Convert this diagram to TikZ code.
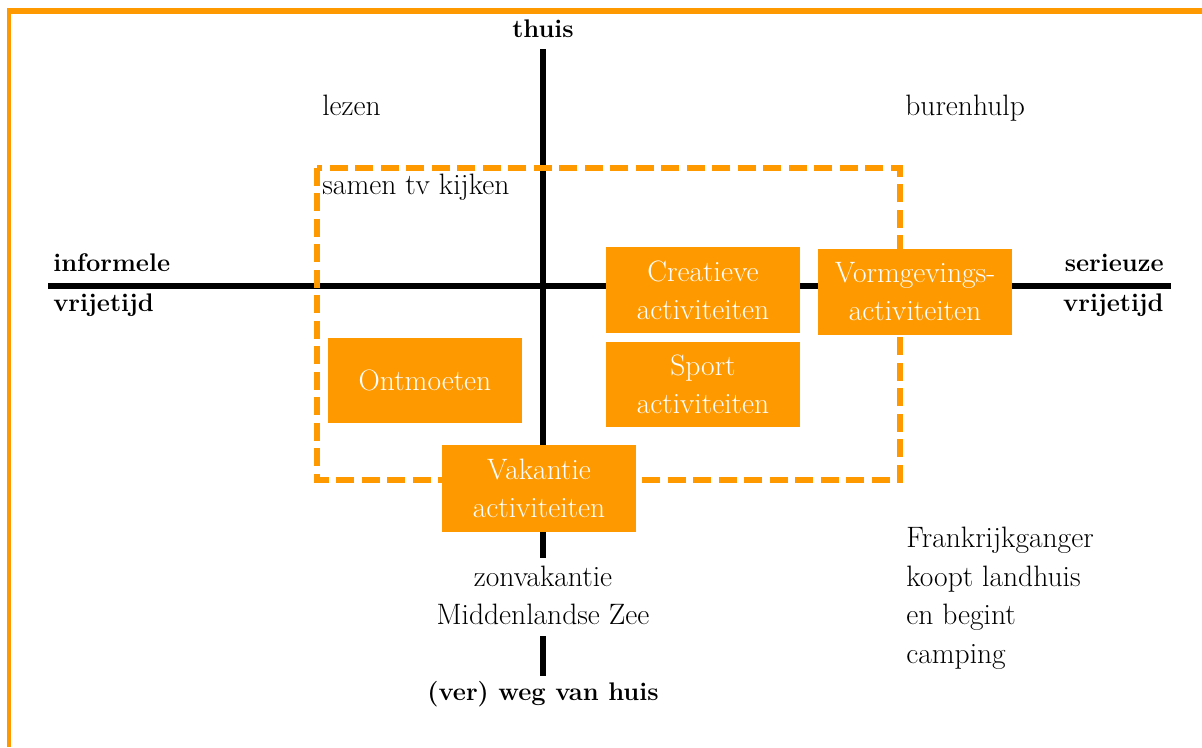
\documentclass[tikz,border=0pt]{standalone}
\usepackage{fontspec}
\definecolor{orng}{RGB}{255,153,0}
\tikzset{
  lbl/.style={font=\fontsize{16.8}{21.6}\selectfont, text=black, inner sep=0pt},
  axlbl/.style={font=\fontsize{14.5}{21.6}\selectfont\bfseries, text=black, inner sep=0pt},
  actbox/.style={fill=orng, text=white, font=\fontsize{16.8}{21.6}\selectfont, align=center, inner sep=0pt, minimum width=3.88cm},
  axisline/.style={line width=0.11cm, black},
  zone/.style={orng, line width=0.12cm, dash pattern=on 0.36cm off 0.15cm},
}
\begin{document}
\begin{tikzpicture}[x=0.02cm,y=-0.02cm]
\useasboundingbox (0,0) rectangle (1202,747);
% frame
\draw[orng, line width=0.12cm] (7,11) -- (1202,11);
\draw[orng, line width=0.08cm] (9,8) -- (9,747);
% axis end points
\coordinate (hl) at (48,286);
\coordinate (hr) at (1171,286);
\coordinate (vt) at (543,49);
\coordinate (vg1) at (543,558);
\coordinate (vg2) at (543,636);
\coordinate (vb) at (543,676);
\draw[axisline] (hl) -- (hr);
\draw[axisline] (vt) -- (vg1);
\draw[axisline] (vg2) -- (vb);
% dashed zone
\coordinate (z1) at (317,168);
\coordinate (z2) at (900,480);
\draw[zone] (z1) rectangle (z2);
% activity boxes
\node[actbox, minimum height=1.72cm] (creat) at (703,290) {Creatieve\\activiteiten};
\node[actbox, minimum height=1.70cm] (sport) at (703,384.5) {Sport\\activiteiten};
\node[actbox, minimum height=1.72cm] (vorm) at (915,292) {Vormgevings-\\activiteiten};
\node[actbox, minimum height=1.70cm] (ontm) at (425,380.5) {Ontmoeten};
\node[actbox, minimum height=1.74cm] (vak) at (539,488.5) {Vakantie\\activiteiten};
% axis labels
\node[axlbl, anchor=base] (thuis) at (543,37) {thuis};
\node[axlbl, anchor=base] (weg) at (543,700) {(ver) weg van huis};
\node[axlbl, anchor=base west] (inf) at (53,271) {informele};
\node[axlbl, anchor=base west] (vrl) at (53,311) {vrijetijd};
\node[axlbl, anchor=base east] (ser) at (1164,271) {serieuze};
\node[axlbl, anchor=base east] (vrr) at (1164,311) {vrijetijd};
% other labels
\node[lbl, anchor=base west] (lezen) at (322,115) {lezen};
\node[lbl, anchor=base west] (buren) at (905,115) {burenhulp};
\node[lbl, anchor=base west] (samen) at (322,194) {samen tv kijken};
\node[lbl, anchor=base] (zon) at (543,586) {zonvakantie};
\node[lbl, anchor=base] (mid) at (543,624) {Middenlandse Zee};
\node[lbl, anchor=base west] (fr1) at (906,547) {Frankrijkganger};
\node[lbl, anchor=base west] (fr2) at (906,586) {koopt landhuis};
\node[lbl, anchor=base west] (fr3) at (906,624) {en begint};
\node[lbl, anchor=base west] (fr4) at (906,663) {camping};
\end{tikzpicture}
\end{document}
